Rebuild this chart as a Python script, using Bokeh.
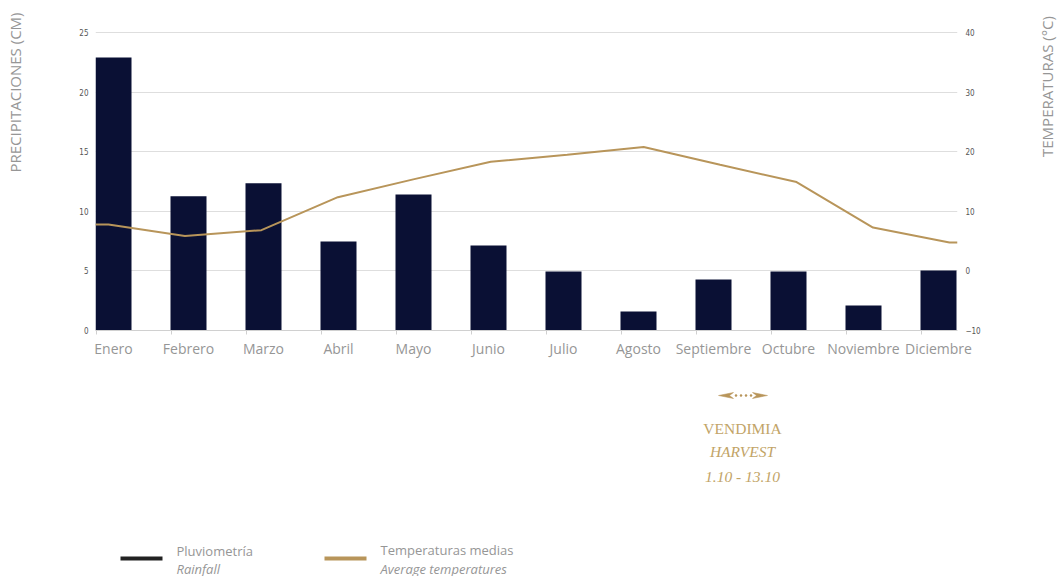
import math
from bokeh.plotting import figure
from bokeh.layouts import column, row
from bokeh.models import Range1d, LinearAxis, FixedTicker
from bokeh.core.properties import value
from bokeh.embed import file_html
from bokeh.resources import INLINE

months = ["Enero", "Febrero", "Marzo", "Abril", "Mayo", "Junio", "Julio",
          "Agosto", "Septiembre", "Octubre", "Noviembre", "Diciembre"]
rainfall_cm = [22.9, 11.27, 12.36, 7.47, 11.4, 7.13, 4.95, 1.6, 4.28, 4.95, 2.1, 5.03]
temperature_c = [7.77, 5.87, 6.83, 12.37, 15.4, 18.3, 19.5, 20.8, 17.8, 14.9, 7.27, 4.75]
rain_ticks = [0, 5, 10, 15, 20, 25]
temp_ticks = [-10, 0, 10, 20, 30, 40]
left_title = "PRECIPITACIONES (CM)"
right_title = "TEMPERATURAS (°C)"
harvest_title = "VENDIMIA"
harvest_sub = ["HARVEST", "1.10 - 13.10"]
legend_es = ["Pluviometría", "Temperaturas medias"]
legend_en = ["Rainfall", "Average temperatures"]

NAVY = "#0a1034"
GOLD = "#b8955a"
GOLD_TXT = "#c2a467"
GREY = "#969696"
TICK = "#555555"

W_SIDE = 30
W_MAIN = 1000
H_TOP = 372
H_BOT = 204
W_ALL = W_SIDE * 2 + W_MAIN
FRAME_BOTTOM = 330   # page y of the x axis
GRID_TOP = 32        # page y of the top gridline
PAD = GRID_TOP / (FRAME_BOTTOM - GRID_TOP)  # headroom above the top tick, as a fraction

idx = list(range(len(months)))


def blank(width, height, bottom=0):
    f = figure(width=width, height=height, x_range=Range1d(0, width),
               y_range=Range1d(0, height - bottom),
               output_backend="svg", toolbar_location=None, x_axis_type=None, y_axis_type=None,
               min_border=0, min_border_bottom=bottom, title=None)
    f.outline_line_color = None
    f.grid.visible = False
    return f


# ---------- main chart ----------
r0, r1 = rain_ticks[0], rain_ticks[-1]
t0, t1 = temp_ticks[0], temp_ticks[-1]
p = figure(width=W_MAIN, height=H_TOP, x_range=Range1d(-0.24, 11.2533),
           y_range=Range1d(r0, r1 + (r1 - r0) * PAD),
           output_backend="svg", toolbar_location=None,
           min_border_left=65, min_border_right=73, min_border_top=0,
           min_border_bottom=H_TOP - FRAME_BOTTOM)
p.outline_line_color = None
p.xgrid.visible = False
p.ygrid.ticker = FixedTicker(ticks=rain_ticks)
p.ygrid.grid_line_color = "#dedede"

p.extra_y_ranges = {"temp": Range1d(t0, t1 + (t1 - t0) * PAD)}
p.extra_x_ranges = {"tx": Range1d(-0.17, 11.105)}

xa = p.xaxis[0]
xa.ticker = FixedTicker(ticks=idx, minor_ticks=[i - 0.23 for i in idx])
xa.major_label_overrides = {i: m for i, m in zip(idx, months)}
xa.axis_line_color = "#d0d0d0"
xa.major_tick_line_color = None
xa.major_tick_in = 0
xa.major_tick_out = 0
xa.minor_tick_line_color = "#d0d0d0"
xa.minor_tick_in = 0
xa.minor_tick_out = 4
xa.major_label_text_font = "Open Sans"
xa.major_label_text_font_size = "14px"
xa.major_label_text_color = GREY
xa.major_label_standoff = 4

ya = p.yaxis[0]
ya.ticker = FixedTicker(ticks=rain_ticks)
ya.axis_line_color = None
ya.major_tick_line_color = None
ya.major_tick_in = 0
ya.major_tick_out = 0
ya.minor_tick_line_color = None
ya.minor_tick_out = 0
ya.major_label_text_font = "DejaVu Sans Condensed"
ya.major_label_text_font_size = "8px"
ya.major_label_text_color = TICK
ya.major_label_standoff = 7

ra = LinearAxis(y_range_name="temp", ticker=FixedTicker(ticks=temp_ticks))
ra.axis_line_color = None
ra.major_tick_line_color = None
ra.major_tick_in = 0
ra.major_tick_out = 0
ra.minor_tick_line_color = None
ra.minor_tick_out = 0
ra.major_label_text_font = "DejaVu Sans Condensed"
ra.major_label_text_font_size = "8px"
ra.major_label_text_color = TICK
ra.major_label_standoff = 8
p.add_layout(ra, "right")

p.vbar(x=idx, top=rainfall_cm, width=0.48, fill_color=NAVY, line_color=None)

tr = p.extra_x_ranges["tx"]
lx = [tr.start] + idx + [tr.end]
ly = [temperature_c[0]] + temperature_c + [temperature_c[-1]]
p.line(x=lx, y=ly, x_range_name="tx", y_range_name="temp", line_color=GOLD, line_width=2)

# ---------- side titles (frames span page y 0..330) ----------
HB = H_TOP - FRAME_BOTTOM
lf = blank(W_SIDE, H_TOP, bottom=HB)
lf.text(x=[14], y=[FRAME_BOTTOM - 92], text=[left_title], angle=math.pi / 2,
        text_align="center", text_baseline="middle", text_font=value("Open Sans"),
        text_font_size="15px", text_color=GREY)
rf = blank(W_SIDE, H_TOP, bottom=HB)
rf.text(x=[16], y=[FRAME_BOTTOM - 86], text=[right_title], angle=math.pi / 2,
        text_align="center", text_baseline="middle", text_font=value("Open Sans"),
        text_font_size="15px", text_color=GREY)

# ---------- bottom: harvest note + legend ----------
b = blank(W_ALL, H_BOT)
Y0 = H_TOP + H_BOT  # page y of the bottom edge


def by(page_y):
    return Y0 - page_y


ay = by(395)
b.patches(xs=[[718, 733, 729, 733], [767, 752, 756, 752]],
          ys=[[ay, ay + 3, ay, ay - 3], [ay, ay + 3, ay, ay - 3]],
          fill_color=GOLD, line_color=GOLD, line_width=0.5)
b.scatter(x=[735.5, 740.5, 745.5, 750.5], y=[ay] * 4, size=2.5, marker="circle",
          fill_color=GOLD, line_color=None)
b.text(x=[742], y=[by(428)], text=[harvest_title],
       text_align="center", text_baseline="middle", text_font=value("Liberation Serif"),
       text_font_size="15.5px", text_font_style="normal", text_color=GOLD_TXT)
b.text(x=[742] * 2, y=[by(451), by(476)], text=harvest_sub,
       text_align="center", text_baseline="middle", text_font=value("Liberation Serif"),
       text_font_size="15.5px", text_font_style="italic", text_color=GOLD_TXT)

b.rect(x=[141, 345], y=[by(558), by(558)], width=42, height=4,
       fill_color=["#222222", GOLD], line_color=None)
b.text(x=[176, 380], y=[by(550), by(549)], text=legend_es, text_align="left",
       text_baseline="middle", text_font=value("Open Sans"), text_font_size="13px",
       text_color=GREY)
b.text(x=[176, 380], y=[by(568), by(568)], text=legend_en, text_align="left",
       text_baseline="middle", text_font=value("Open Sans"), text_font_size="13px",
       text_font_style="italic", text_color=GREY)

layout = column(row(lf, p, rf), b)
open("out.html", "w").write(file_html(layout, INLINE))
